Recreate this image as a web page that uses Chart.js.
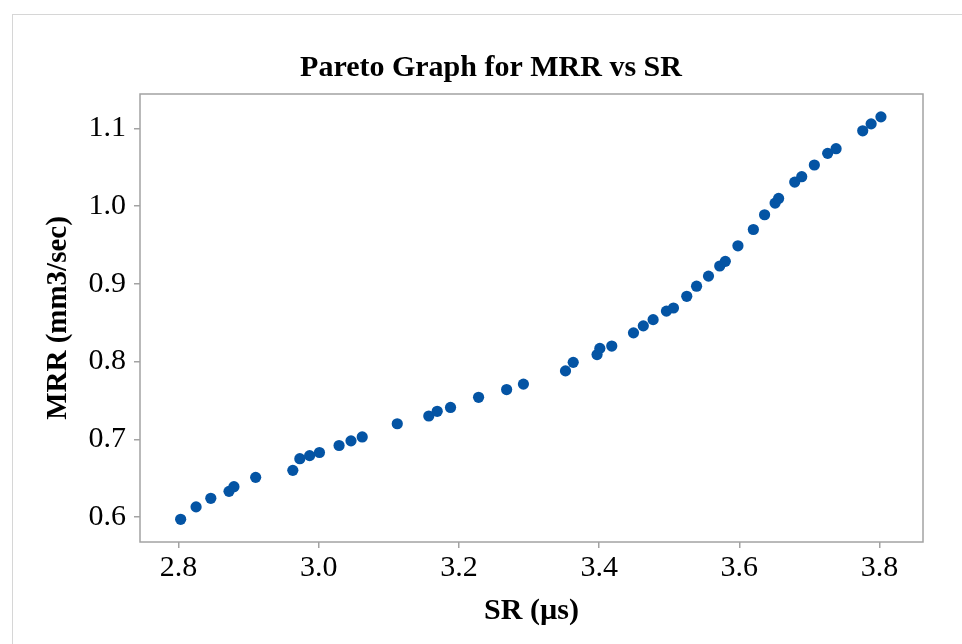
<!DOCTYPE html>
<html>
<head>
<meta charset="utf-8">
<title>Pareto Graph for MRR vs SR</title>
<script src="https://cdn.jsdelivr.net/npm/chart.js@4/dist/chart.umd.min.js"></script>
<style>
  html, body { margin: 0; padding: 0; background: #fff; overflow: hidden; }
  #frame {
    position: absolute; left: 12px; top: 14px;
    width: 962px; height: 644px;
    border: 1px solid #d6d6d6;
  }
  #wrap { position: absolute; left: 0; top: 0; width: 962px; height: 644px; }
</style>
</head>
<body>
<div id="frame"></div>
<div id="wrap"><canvas id="pareto"></canvas></div>
<script>
  // values
  const srValues = [
    2.803, 2.825, 2.846, 2.872, 2.879, 2.910, 2.963, 2.973, 2.987, 3.001,
    3.029, 3.046, 3.062, 3.112, 3.157, 3.169, 3.188, 3.228, 3.268, 3.292,
    3.352, 3.363, 3.397, 3.401, 3.418, 3.449, 3.463, 3.477, 3.496, 3.506,
    3.525, 3.539, 3.556, 3.572, 3.580, 3.598, 3.620, 3.636, 3.651, 3.656,
    3.679, 3.689, 3.707, 3.726, 3.738, 3.776, 3.788, 3.802
  ];
  const mrrValues = [
    0.597, 0.613, 0.624, 0.633, 0.639, 0.651, 0.660, 0.675, 0.679, 0.683,
    0.692, 0.698, 0.703, 0.720, 0.730, 0.736, 0.741, 0.754, 0.764, 0.771,
    0.788, 0.799, 0.809, 0.817, 0.820, 0.837, 0.846, 0.854, 0.865, 0.869,
    0.884, 0.897, 0.910, 0.923, 0.929, 0.949, 0.970, 0.989, 1.004, 1.010,
    1.031, 1.038, 1.053, 1.068, 1.074, 1.097, 1.106, 1.115
  ];
  const xTicks = [2.8, 3.0, 3.2, 3.4, 3.6, 3.8];
  const yTicks = [0.6, 0.7, 0.8, 0.9, 1.0, 1.1];

  const points = srValues.map((x, i) => ({x: x, y: mrrValues[i]}));
  const serif = "'Liberation Serif', 'Times New Roman', serif";
  const axisGray = '#a3a3a3';

  // box around the plot area
  const boxPlugin = {
    id: 'box',
    afterDatasetsDraw(chart) {
      const a = chart.chartArea;
      const ctx = chart.ctx;
      ctx.save();
      ctx.strokeStyle = axisGray;
      ctx.lineWidth = 1.5;
      ctx.strokeRect(a.left, a.top, a.right - a.left, a.bottom - a.top);
      ctx.restore();
    }
  };

  new Chart(document.getElementById('pareto'), {
    type: 'scatter',
    data: {
      datasets: [{
        label: 'MRR vs SR',
        data: points,
        backgroundColor: '#0454a4',
        borderColor: '#0454a4',
        pointRadius: 5.6,
        pointHoverRadius: 5.6,
        borderWidth: 0
      }]
    },
    options: {
      responsive: true,
      maintainAspectRatio: false,
      animation: false,
      layout: { padding: { left: 59, right: 39, top: 0, bottom: 0 } },
      plugins: {
        legend: { display: false },
        tooltip: { enabled: false },
        title: {
          display: true,
          text: 'Pareto Graph for MRR vs SR',
          color: '#000',
          font: { family: serif, size: 30, weight: 'bold', lineHeight: 1.2 },
          padding: { top: 50.5, bottom: 7.5 }
        }
      },
      scales: {
        x: {
          type: 'linear',
          min: 2.745,
          max: 3.862,
          afterBuildTicks(scale) { scale.ticks = xTicks.map(v => ({value: v})); },
          afterFit(scale) { scale.height = 102; },
          grid: { drawOnChartArea: false, color: axisGray, tickLength: 6, lineWidth: 1.5 },
          border: { display: false },
          ticks: {
            color: '#000',
            font: { family: serif, size: 30 },
            padding: 2,
            maxRotation: 0,
            callback: v => v.toFixed(1)
          },
          title: {
            display: true,
            text: 'SR (µs)',
            color: '#000',
            font: { family: serif, size: 30, weight: 'bold' },
            padding: { top: 0, bottom: 15 }
          }
        },
        y: {
          type: 'linear',
          min: 0.5678,
          max: 1.1444,
          afterBuildTicks(scale) { scale.ticks = yTicks.map(v => ({value: v})); },
          afterFit(scale) { scale.width = 81; },
          grid: { drawOnChartArea: false, color: axisGray, tickLength: 6, lineWidth: 1.5 },
          border: { display: false },
          ticks: {
            color: '#000',
            font: { family: serif, size: 30 },
            padding: 8,
            callback: v => v.toFixed(1)
          },
          title: {
            display: true,
            text: 'MRR (mm3/sec)',
            color: '#000',
            font: { family: serif, size: 29, weight: 'bold', lineHeight: 1.2 },
            padding: { top: -18, bottom: 0 }
          }
        }
      }
    },
    plugins: [boxPlugin]
  });
</script>
</body>
</html>
